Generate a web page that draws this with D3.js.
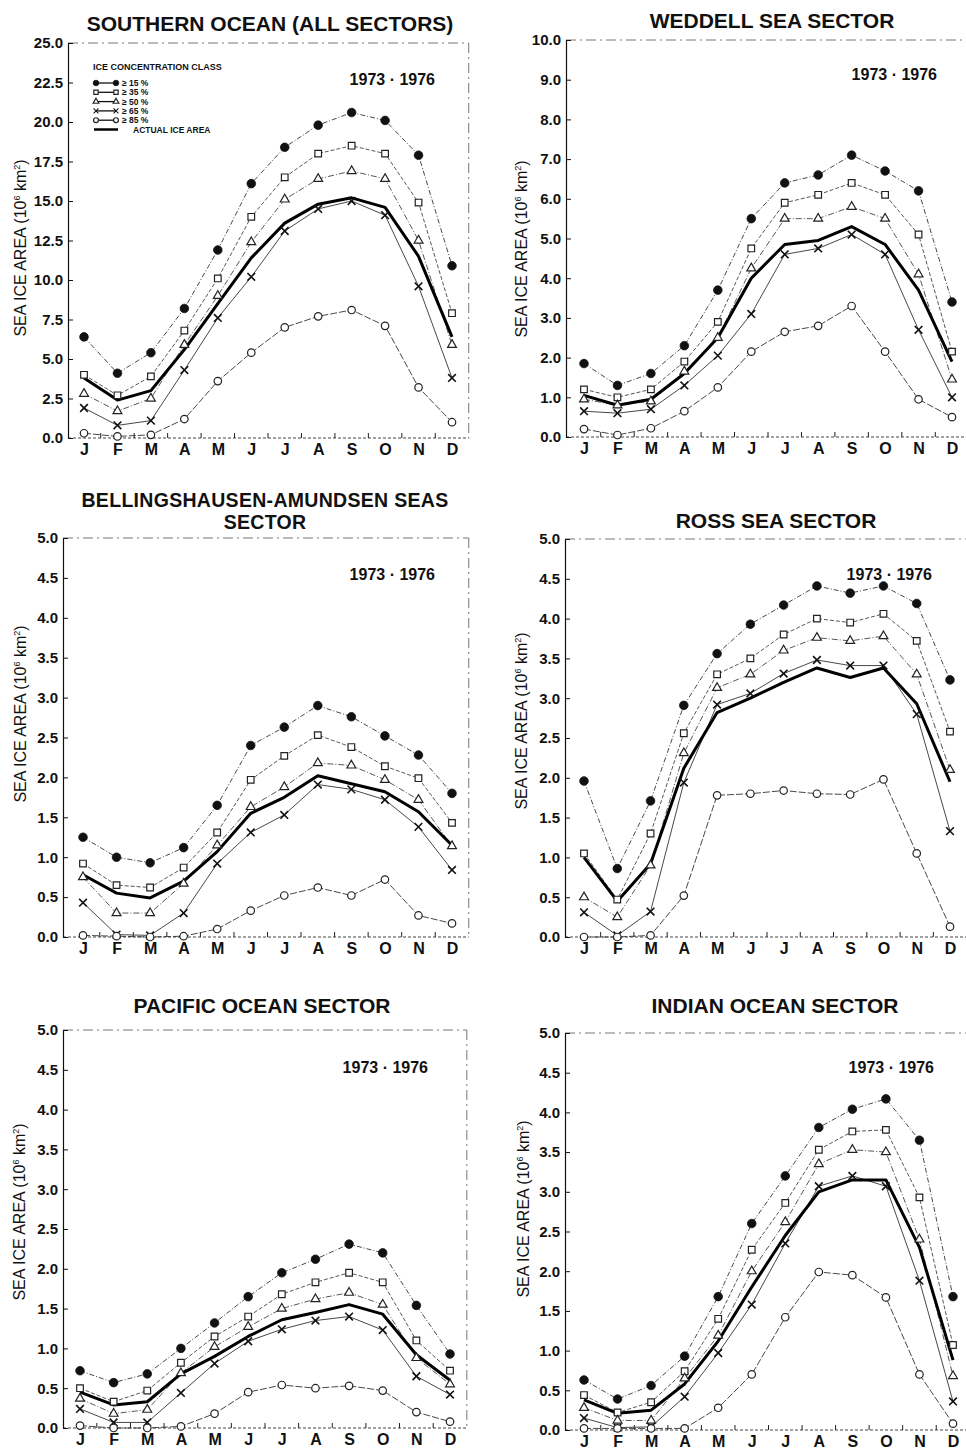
<!DOCTYPE html>
<html>
<head>
<meta charset="utf-8">
<script src="https://cdn.jsdelivr.net/npm/d3@7"></script>
<style>
  html, body { margin: 0; padding: 0; background: #fff; }
  svg { display: block; }
  text { fill: #111; }
</style>
</head>
<body>
<svg id="chart" width="966" height="1452"></svg>
<script>
// ---------------- DATA ----------------
const months = ["J", "F", "M", "A", "M", "J", "J", "A", "S", "O", "N", "D"];
const concentrationClasses = ["\u2265 15 %", "\u2265 35 %", "\u2265 50 %", "\u2265 65 %", "\u2265 85 %"];
const legendTitle = "ICE CONCENTRATION CLASS";
const actualLabel = "ACTUAL ICE AREA";
const yearLabel = "1973 \u00b7 1976";

// Southern Ocean (all sectors), 10^6 km^2
const southern15 = [6.4, 4.1, 5.4, 8.2, 11.9, 16.1, 18.4, 19.8, 20.6, 20.1, 17.9, 10.9];
const southern35 = [4.0, 2.7, 3.9, 6.8, 10.1, 14.0, 16.5, 18.0, 18.5, 18.0, 14.9, 7.9];
const southern50 = [2.8, 1.7, 2.5, 5.9, 9.0, 12.4, 15.1, 16.4, 16.9, 16.4, 12.5, 5.9];
const southern65 = [1.9, 0.8, 1.1, 4.3, 7.6, 10.2, 13.1, 14.5, 15.0, 14.1, 9.6, 3.8];
const southern85 = [0.3, 0.1, 0.2, 1.2, 3.6, 5.4, 7.0, 7.7, 8.1, 7.1, 3.2, 1.0];
const southernActual = [3.8, 2.4, 3.0, 5.6, 8.5, 11.4, 13.6, 14.8, 15.2, 14.6, 11.5, 6.4];

// Weddell Sea sector
const weddell15 = [1.85, 1.3, 1.6, 2.3, 3.7, 5.5, 6.4, 6.6, 7.1, 6.7, 6.2, 3.4];
const weddell35 = [1.2, 1.0, 1.2, 1.9, 2.9, 4.75, 5.9, 6.1, 6.4, 6.1, 5.1, 2.15];
const weddell50 = [0.95, 0.8, 0.9, 1.65, 2.5, 4.25, 5.5, 5.5, 5.8, 5.5, 4.1, 1.45];
const weddell65 = [0.65, 0.6, 0.7, 1.3, 2.05, 3.1, 4.6, 4.75, 5.1, 4.6, 2.7, 1.0];
const weddell85 = [0.2, 0.05, 0.22, 0.65, 1.25, 2.15, 2.65, 2.8, 3.3, 2.15, 0.95, 0.5];
const weddellActual = [1.05, 0.8, 0.95, 1.6, 2.5, 4.0, 4.85, 4.95, 5.3, 4.85, 3.7, 1.9];

// Bellingshausen-Amundsen Seas sector
const bellings15 = [1.25, 1.0, 0.93, 1.12, 1.65, 2.4, 2.63, 2.9, 2.76, 2.52, 2.28, 1.8];
const bellings35 = [0.92, 0.65, 0.62, 0.87, 1.31, 1.97, 2.27, 2.53, 2.38, 2.14, 1.99, 1.43];
const bellings50 = [0.75, 0.3, 0.3, 0.67, 1.15, 1.63, 1.88, 2.18, 2.15, 1.97, 1.72, 1.14];
const bellings65 = [0.43, 0.03, 0.02, 0.3, 0.92, 1.31, 1.53, 1.91, 1.85, 1.72, 1.38, 0.84];
const bellings85 = [0.02, 0.01, 0.0, 0.01, 0.1, 0.33, 0.52, 0.62, 0.52, 0.72, 0.27, 0.17];
const bellingsActual = [0.78, 0.55, 0.49, 0.7, 1.07, 1.55, 1.75, 2.02, 1.92, 1.82, 1.57, 1.15];

// Ross Sea sector
const ross15 = [1.96, 0.86, 1.71, 2.91, 3.56, 3.93, 4.17, 4.41, 4.32, 4.41, 4.19, 3.23];
const ross35 = [1.05, 0.47, 1.3, 2.56, 3.3, 3.5, 3.8, 4.0, 3.95, 4.06, 3.72, 2.58];
const ross50 = [0.5, 0.25, 0.9, 2.31, 3.13, 3.3, 3.6, 3.76, 3.72, 3.78, 3.3, 2.1];
const ross65 = [0.31, 0.02, 0.32, 1.94, 2.92, 3.06, 3.31, 3.48, 3.41, 3.41, 2.8, 1.33];
const ross85 = [0.0, 0.0, 0.02, 0.52, 1.78, 1.8, 1.84, 1.8, 1.79, 1.98, 1.05, 0.13];
const rossActual = [1.0, 0.45, 0.92, 2.12, 2.82, 3.0, 3.2, 3.38, 3.26, 3.38, 2.93, 1.95];

// Pacific Ocean sector
const pacific15 = [0.72, 0.57, 0.68, 1.0, 1.32, 1.65, 1.95, 2.12, 2.31, 2.2, 1.54, 0.93];
const pacific35 = [0.5, 0.33, 0.47, 0.82, 1.15, 1.4, 1.68, 1.83, 1.95, 1.83, 1.1, 0.72];
const pacific50 = [0.37, 0.18, 0.23, 0.69, 1.02, 1.27, 1.5, 1.62, 1.7, 1.55, 0.88, 0.55];
const pacific65 = [0.24, 0.07, 0.07, 0.44, 0.81, 1.09, 1.24, 1.35, 1.4, 1.23, 0.65, 0.42];
const pacific85 = [0.03, 0.0, 0.0, 0.02, 0.18, 0.45, 0.54, 0.5, 0.53, 0.47, 0.2, 0.08];
const pacificActual = [0.45, 0.29, 0.33, 0.68, 0.9, 1.15, 1.36, 1.45, 1.55, 1.43, 0.92, 0.6];

// Indian Ocean sector
const indian15 = [0.63, 0.39, 0.56, 0.93, 1.68, 2.6, 3.2, 3.81, 4.04, 4.17, 3.65, 1.68];
const indian35 = [0.44, 0.22, 0.35, 0.74, 1.4, 2.27, 2.86, 3.53, 3.76, 3.78, 2.93, 1.07];
const indian50 = [0.28, 0.12, 0.12, 0.65, 1.19, 2.0, 2.62, 3.35, 3.53, 3.5, 2.4, 0.68];
const indian65 = [0.15, 0.03, 0.04, 0.42, 0.97, 1.58, 2.35, 3.07, 3.2, 3.07, 1.88, 0.36];
const indian85 = [0.02, 0.02, 0.02, 0.02, 0.28, 0.7, 1.42, 1.99, 1.95, 1.67, 0.7, 0.08];
const indianActual = [0.38, 0.21, 0.25, 0.58, 1.12, 1.8, 2.45, 3.0, 3.15, 3.15, 2.3, 0.88];

// ---------------- PANELS (layout) ----------------
const panels = [
  { title: ["SOUTHERN OCEAN (ALL SECTORS)"], series: [southern15, southern35, southern50, southern65, southern85], actual: southernActual,
    yMax: 25, yStep: 2.5, legend: true,
    L: { axisX: 68, xJ: 84, xD: 452, yTop: 43, yBottom: 438, titleX: 270, titleY: [31], yearX: 435, yearY: 85, labX: 20, labY: 248 } },
  { title: ["WEDDELL SEA SECTOR"], series: [weddell15, weddell35, weddell50, weddell65, weddell85], actual: weddellActual,
    yMax: 10, yStep: 1,
    L: { axisX: 566, xJ: 584, xD: 952, yTop: 40, yBottom: 437, titleX: 772, titleY: [28], yearX: 937, yearY: 80, labX: 521, labY: 249 } },
  { title: ["BELLINGSHAUSEN-AMUNDSEN SEAS", "SECTOR"], series: [bellings15, bellings35, bellings50, bellings65, bellings85], actual: bellingsActual,
    yMax: 5, yStep: 0.5,
    L: { axisX: 63, xJ: 83, xD: 452, yTop: 538, yBottom: 937, titleX: 265, titleY: [507, 529], yearX: 435, yearY: 580, labX: 20, labY: 714 } },
  { title: ["ROSS SEA SECTOR"], series: [ross15, ross35, ross50, ross65, ross85], actual: rossActual,
    yMax: 5, yStep: 0.5,
    L: { axisX: 565, xJ: 584, xD: 950, yTop: 539, yBottom: 937, titleX: 776, titleY: [528], yearX: 932, yearY: 580, labX: 521, labY: 721 } },
  { title: ["PACIFIC OCEAN SECTOR"], series: [pacific15, pacific35, pacific50, pacific65, pacific85], actual: pacificActual,
    yMax: 5, yStep: 0.5,
    L: { axisX: 63, xJ: 80, xD: 450, yTop: 1030, yBottom: 1428, titleX: 262, titleY: [1013], yearX: 428, yearY: 1073, labX: 19, labY: 1212 } },
  { title: ["INDIAN OCEAN SECTOR"], series: [indian15, indian35, indian50, indian65, indian85], actual: indianActual,
    yMax: 5, yStep: 0.5,
    L: { axisX: 565, xJ: 584, xD: 953, yTop: 1033, yBottom: 1430, titleX: 775, titleY: [1013], yearX: 934, yearY: 1073, labX: 523, labY: 1209 } }
];

const FONT = "'Liberation Sans', Arial, Helvetica, sans-serif";
const svg = d3.select("#chart");

// marker drawing for each concentration class
const symCircle = d3.symbol().type(d3.symbolCircle);
const symSquare = d3.symbol().type(d3.symbolSquare);
const symTriangle = d3.symbol().type(d3.symbolTriangle);
const symTimes = d3.symbol().type(d3.symbolTimes);

function drawMarker(g, cls, cx, cy, k) {
  k = k || 1;
  const t = `translate(${cx},${cy})`;
  if (cls === 0) {
    g.append("path").attr("d", symCircle.size(58 * k * k)()).attr("transform", t)
      .attr("fill", "#111").attr("stroke", "#111").attr("stroke-width", 0.8);
  } else if (cls === 1) {
    g.append("path").attr("d", symSquare.size(44 * k * k)()).attr("transform", t)
      .attr("fill", "#fff").attr("stroke", "#222").attr("stroke-width", 1.2);
  } else if (cls === 2) {
    g.append("path").attr("d", symTriangle.size(34 * k * k)()).attr("transform", t)
      .attr("fill", "#fff").attr("stroke", "#222").attr("stroke-width", 1.2);
  } else if (cls === 3) {
    g.append("path").attr("d", symTimes.size(40 * k * k)()).attr("transform", t)
      .attr("fill", "#111").attr("stroke", "#111").attr("stroke-width", 1.6 * k);
  } else {
    g.append("path").attr("d", symCircle.size(44 * k * k)()).attr("transform", t)
      .attr("fill", "#fff").attr("stroke", "#222").attr("stroke-width", 1.2);
  }
}

const lineStyles = [
  { w: 0.9, dash: "5,2,1,2", color: "#333" },
  { w: 0.9, dash: "4,2", color: "#444" },
  { w: 0.9, dash: "6,2,1,2", color: "#444" },
  { w: 0.9, dash: null, color: "#333" },
  { w: 0.9, dash: "7,2", color: "#333" }
];

panels.forEach(p => {
  const L = p.L;
  const g = svg.append("g");
  const idx = d3.range(months.length);
  const x = d3.scalePoint().domain(idx).range([L.xJ, L.xD]);
  const step = x.step();
  const xRight = L.xD + step / 2;
  const y = d3.scaleLinear().domain([0, p.yMax]).range([L.yBottom, L.yTop]);

  // frame: top + right (faint dashed)
  g.append("line").attr("x1", L.axisX).attr("x2", xRight).attr("y1", L.yTop).attr("y2", L.yTop)
    .attr("stroke", "#666").attr("stroke-width", 0.9).attr("stroke-dasharray", "10,4,2,4");
  g.append("line").attr("x1", xRight).attr("x2", xRight).attr("y1", L.yTop).attr("y2", L.yBottom)
    .attr("stroke", "#666").attr("stroke-width", 0.9).attr("stroke-dasharray", "10,4,2,4");
  // bottom axis line
  g.append("line").attr("x1", L.axisX).attr("x2", xRight).attr("y1", L.yBottom).attr("y2", L.yBottom)
    .attr("stroke", "#444").attr("stroke-width", 1).attr("stroke-dasharray", "3,2");
  // boundary ticks between months
  g.selectAll(".btick").data(d3.range(1, months.length)).join("line")
    .attr("x1", i => x(i) - step / 2).attr("x2", i => x(i) - step / 2)
    .attr("y1", L.yBottom).attr("y2", L.yBottom - 5)
    .attr("stroke", "#222").attr("stroke-width", 1);

  // y axis
  const yTicks = d3.range(0, p.yMax + p.yStep / 2, p.yStep);
  const yAxis = d3.axisLeft(y).tickValues(yTicks).tickFormat(d3.format(".1f"))
    .tickSizeInner(-5).tickSizeOuter(0).tickPadding(5);
  const ya = g.append("g").attr("transform", `translate(${L.axisX},0)`).call(yAxis);
  ya.select(".domain").attr("stroke", "#111").attr("stroke-width", 1.2);
  ya.selectAll(".tick line").attr("stroke", "#111").attr("stroke-width", 1);
  ya.selectAll(".tick text").attr("font-family", FONT).attr("font-weight", "bold")
    .attr("font-size", 15).attr("fill", "#111");

  // month labels
  const xAxis = d3.axisBottom(x).tickFormat(i => months[i]).tickSize(0).tickPadding(0);
  const xa = g.append("g").attr("transform", `translate(0,${L.yBottom + 6})`).call(xAxis);
  xa.select(".domain").remove();
  xa.selectAll(".tick text").attr("font-family", FONT).attr("font-weight", "bold")
    .attr("font-size", 16).attr("fill", "#111").attr("dy", "0.71em");

  // title
  const tSize = p.title.length > 1 ? 19.5 : 21;
  p.title.forEach((t, i) => {
    g.append("text").attr("x", L.titleX).attr("y", L.titleY[i]).attr("text-anchor", "middle")
      .attr("font-family", FONT).attr("font-weight", "bold").attr("font-size", tSize)
      .attr("letter-spacing", p.title.length > 1 ? 0.3 : 0).text(t);
  });

  // year label
  g.append("text").attr("x", L.yearX).attr("y", L.yearY).attr("text-anchor", "end")
    .attr("font-family", FONT).attr("font-weight", "bold").attr("font-size", 16).text(yearLabel);

  // y label
  const yl = g.append("text").attr("transform", `translate(${L.labX + 6},${L.labY}) rotate(-90)`)
    .attr("text-anchor", "middle").attr("font-family", FONT).attr("font-size", 16);
  yl.append("tspan").text("SEA ICE AREA (10");
  yl.append("tspan").attr("font-size", 9).attr("dy", -6).text("6");
  yl.append("tspan").attr("dy", 6).text(" km");
  yl.append("tspan").attr("font-size", 9).attr("dy", -6).text("2");
  yl.append("tspan").attr("dy", 6).text(")");

  // series lines
  const line = d3.line().x((d, i) => x(i)).y(d => y(d));
  p.series.forEach((s, k) => {
    const st = lineStyles[k];
    g.append("path").datum(s).attr("d", line).attr("fill", "none")
      .attr("stroke", st.color).attr("stroke-width", st.w)
      .attr("stroke-dasharray", st.dash);
  });
  // actual ice area
  g.append("path").datum(p.actual).attr("d", line).attr("fill", "none")
    .attr("stroke", "#000").attr("stroke-width", 3).attr("stroke-linejoin", "round");

  // markers
  p.series.forEach((s, k) => {
    const mg = g.append("g");
    s.forEach((v, i) => drawMarker(mg, k, x(i), y(v)));
  });

  // legend
  if (p.legend) {
    const lg = g.append("g");
    const lx0 = 96, lx1 = 116, ly0 = 83, dy = 9.3;
    lg.append("text").attr("x", 93).attr("y", 70).attr("font-family", FONT).attr("font-weight", "bold")
      .attr("font-size", 9).text(legendTitle);
    concentrationClasses.forEach((c, k) => {
      const yy = ly0 + k * dy;
      lg.append("line").attr("x1", lx0).attr("x2", lx1).attr("y1", yy).attr("y2", yy)
        .attr("stroke", "#111").attr("stroke-width", 1.3);
      drawMarker(lg, k, lx0, yy, 0.65);
      drawMarker(lg, k, lx1, yy, 0.65);
      lg.append("text").attr("x", 122).attr("y", yy + 3).attr("font-family", FONT).attr("font-weight", "bold")
        .attr("font-size", 8.5).text(c);
    });
    const ya2 = ly0 + 5 * dy;
    lg.append("line").attr("x1", lx0 - 2).attr("x2", lx1 + 2).attr("y1", ya2).attr("y2", ya2)
      .attr("stroke", "#000").attr("stroke-width", 2.5);
    lg.append("text").attr("x", 133).attr("y", ya2 + 3).attr("font-family", FONT).attr("font-weight", "bold")
      .attr("font-size", 8.5).text(actualLabel);
  }
});
</script>
</body>
</html>
